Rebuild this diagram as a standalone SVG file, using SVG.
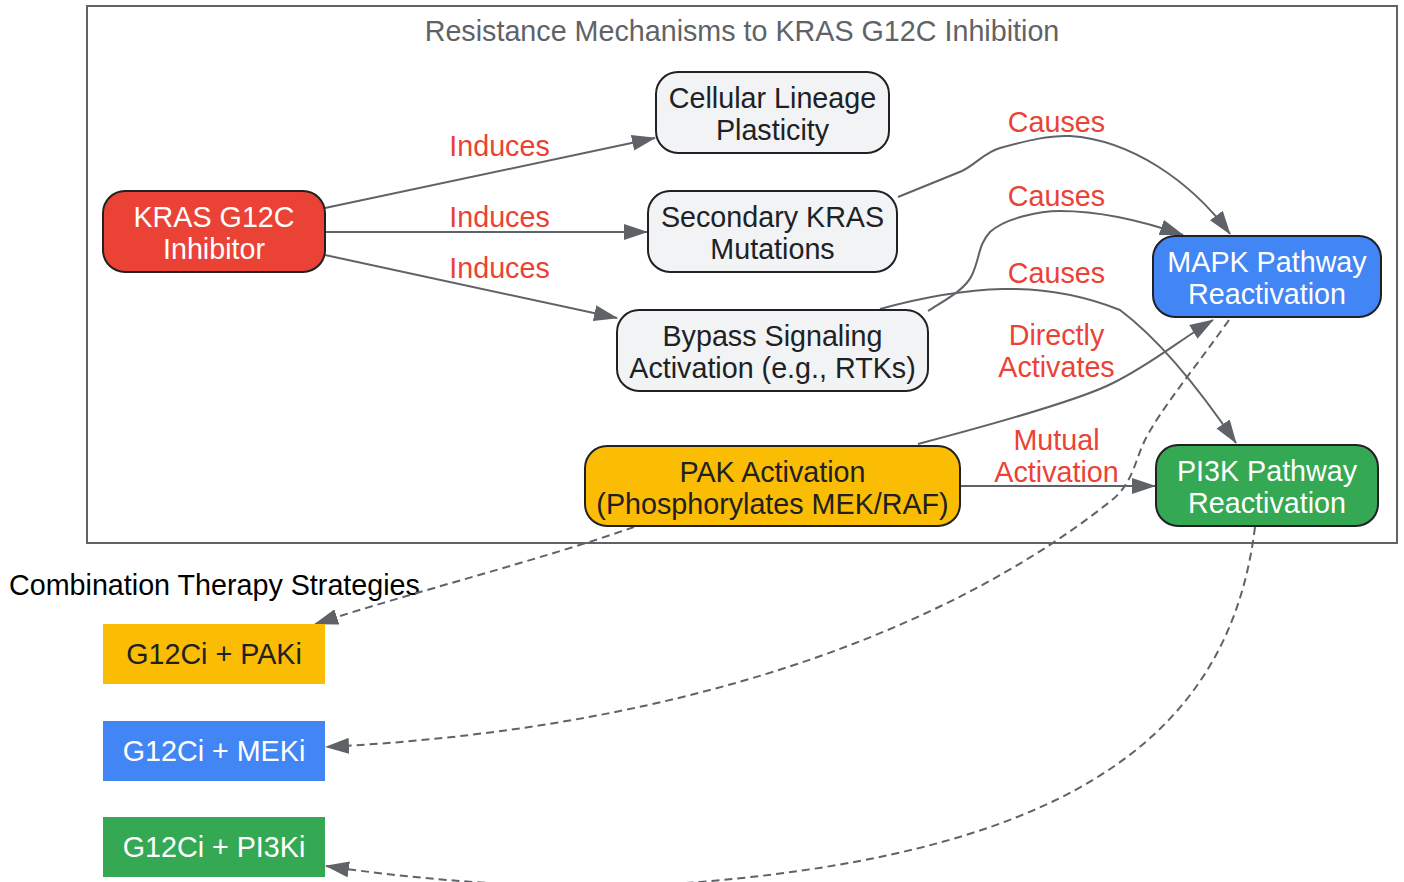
<svg xmlns="http://www.w3.org/2000/svg" width="1404" height="882" viewBox="0 0 1404 882">
<defs>
<marker id="arr" viewBox="0 0 24 16" refX="23" refY="8" markerWidth="24" markerHeight="16" markerUnits="userSpaceOnUse" orient="auto">
<path d="M0,0 L24,8 L0,16 Z" fill="#5f6368"/>
</marker>
</defs>
<style>
text{font-family:"Liberation Sans",Arial,sans-serif;font-size:28.7px;}
.node rect{stroke:#202124;stroke-width:2;}
.nt{fill:#202124;text-anchor:middle;}
.wt{fill:#ffffff;text-anchor:middle;}
.lbl{fill:#ea4335;text-anchor:middle;}
.e{fill:none;stroke:#5f6368;stroke-width:2;marker-end:url(#arr);}
.d{stroke-dasharray:8,5;}
.grey{fill:#f1f3f4;}
.red{fill:#ea4335;}
.blue{fill:#4285f4;}
.green{fill:#34a853;}
.yellow{fill:#fbbc04;}
</style>
<rect width="1404" height="882" fill="#ffffff"/>
<g id="cluster">
<rect x="87" y="6" width="1310" height="537" fill="#ffffff" stroke="#5f6368" stroke-width="2"/>
<text x="742" y="41" fill="#5f6368" text-anchor="middle">Resistance Mechanisms to KRAS G12C Inhibition</text>
</g>
<text x="9" y="595" fill="#000000">Combination Therapy Strategies</text>
<g id="edges">
<path class="e" d="M325,208 L655,138"/>
<path class="e" d="M325,232 L647,232"/>
<path class="e" d="M325,255 L617,318"/>
<path class="e" d="M898,197 L962,171 C975,165 985,152 1000,148 C1030,140 1050,135 1070,136 C1130,140 1190,180 1230,234"/>
<path class="e" d="M928,311 C945,300 965,290 972,275 C980,258 978,245 990,232 C1005,218 1040,211 1060,211 C1100,211 1140,220 1183,235"/>
<path class="e" d="M880,309 C920,298 960,290 1003,289 C1050,288 1090,298 1120,310 C1160,340 1200,390 1236,443"/>
<path class="e" d="M918,444 C990,425 1080,400 1113,383 C1150,365 1180,340 1213,320"/>
<path class="e" d="M960,486 L1155,486"/>
<path class="e d" d="M634,527 C540,560 420,590 315,624"/>
<path class="e d" d="M1229,320 C1195,368 1160,410 1145,440 C1135,460 1133,483 1112,500 C1000,590 760,725 326,747"/>
<path class="e d" d="M1255,527 C1230,730 1080,850 700,882 C560,893 420,880 326,866"/>
<text class="lbl" x="499.5" y="156">Induces</text>
<text class="lbl" x="499.5" y="227">Induces</text>
<text class="lbl" x="499.5" y="278">Induces</text>
<text class="lbl" x="1056.5" y="132">Causes</text>
<text class="lbl" x="1056.5" y="206">Causes</text>
<text class="lbl" x="1056.5" y="283">Causes</text>
<text class="lbl" x="1056.5" y="345">Directly</text>
<text class="lbl" x="1056.5" y="377">Activates</text>
<text class="lbl" x="1056.5" y="450">Mutual</text>
<text class="lbl" x="1056.5" y="482">Activation</text>
</g>
<g id="kras" class="node">
<rect class="red" x="103" y="191" width="222" height="81" rx="22"/>
<text class="wt" x="214" y="227">KRAS G12C</text>
<text class="wt" x="214" y="259">Inhibitor</text>
</g>
<g id="lineage" class="node">
<rect class="grey" x="656" y="72" width="233" height="81" rx="22"/>
<text class="nt" x="772.5" y="108">Cellular Lineage</text>
<text class="nt" x="772.5" y="140">Plasticity</text>
</g>
<g id="secondary" class="node">
<rect class="grey" x="648" y="191" width="249" height="81" rx="22"/>
<text class="nt" x="772.5" y="227">Secondary KRAS</text>
<text class="nt" x="772.5" y="259">Mutations</text>
</g>
<g id="bypass" class="node">
<rect class="grey" x="617" y="310" width="311" height="81" rx="22"/>
<text class="nt" x="772.5" y="346">Bypass Signaling</text>
<text class="nt" x="772.5" y="378">Activation (e.g., RTKs)</text>
</g>
<g id="pak" class="node">
<rect class="yellow" x="585" y="446" width="375" height="80" rx="22"/>
<text class="nt" x="772.5" y="482">PAK Activation</text>
<text class="nt" x="772.5" y="514">(Phosphorylates MEK/RAF)</text>
</g>
<g id="mapk" class="node">
<rect class="blue" x="1153" y="236" width="228" height="81" rx="22"/>
<text class="wt" x="1267" y="272">MAPK Pathway</text>
<text class="wt" x="1267" y="304">Reactivation</text>
</g>
<g id="pi3k" class="node">
<rect class="green" x="1156" y="445" width="222" height="81" rx="22"/>
<text class="wt" x="1267" y="481">PI3K Pathway</text>
<text class="wt" x="1267" y="513">Reactivation</text>
</g>
<g id="paki">
<rect class="yellow" x="103" y="624" width="222" height="60"/>
<text class="nt" x="214" y="664">G12Ci + PAKi</text>
</g>
<g id="meki">
<rect class="blue" x="103" y="721" width="222" height="60"/>
<text class="wt" x="214" y="761">G12Ci + MEKi</text>
</g>
<g id="pi3ki">
<rect class="green" x="103" y="817" width="222" height="60"/>
<text class="wt" x="214" y="857">G12Ci + PI3Ki</text>
</g>
</svg>
